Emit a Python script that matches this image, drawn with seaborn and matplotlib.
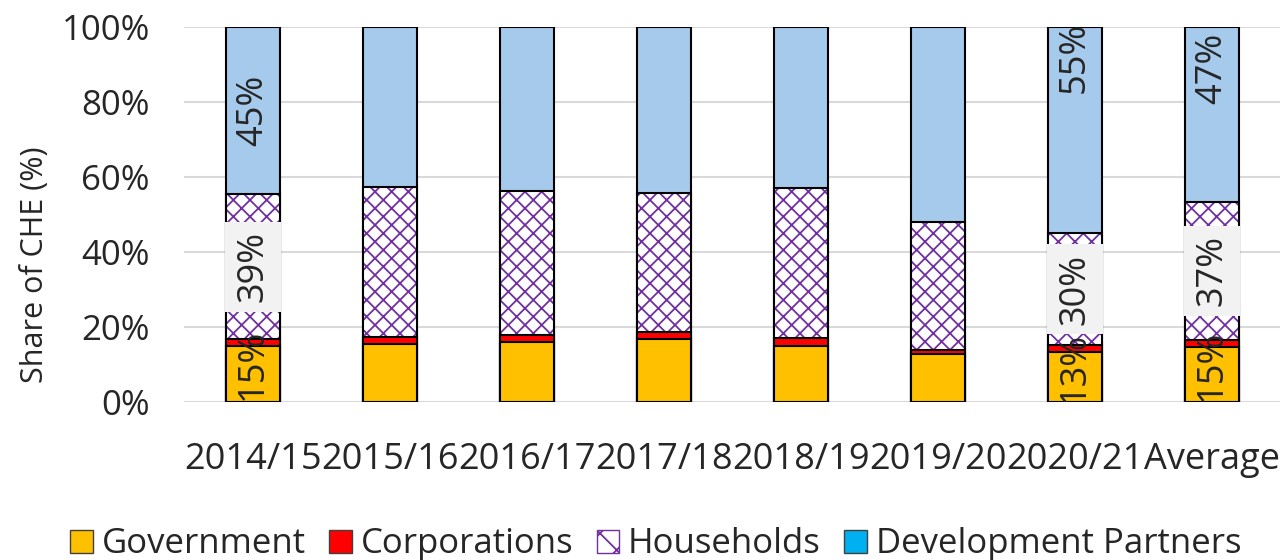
import numpy as np
import matplotlib
matplotlib.use('Agg')
import matplotlib.pyplot as plt
from matplotlib.patches import Patch
import seaborn as sns

# Datos (% del gasto corriente en salud por fuente)
years = ['2014/15', '2015/16', '2016/17', '2017/18', '2018/19', '2019/20', '2020/21', 'Average']
government = [15.0, 15.6, 16.0, 16.7, 15.0, 12.7, 13.4, 14.8]
corporations = [1.7, 1.8, 1.8, 2.0, 2.2, 1.3, 1.7, 1.8]
households = [38.7, 40.0, 38.6, 37.1, 39.8, 34.1, 30.0, 36.8]
dev_partners = [44.6, 42.6, 43.6, 44.2, 43.0, 51.9, 54.9, 46.6]
labelled_years = ['2014/15', '2020/21', 'Average']

sns.set_theme(style='white')
plt.rcParams['font.family'] = ['Open Sans', 'DejaVu Sans']
plt.rcParams['hatch.linewidth'] = 1.3

gov = np.array(government)
corp = np.array(corporations)
hh = np.array(households)
dp = np.array(dev_partners)

cum_corp = gov + corp
cum_hh = cum_corp + hh
cum_dp = cum_hh + dp

fig = plt.figure(figsize=(12.83, 5.6), dpi=100)
ax = fig.add_axes([0.1438, 0.2821, 0.8542, 0.6696])

common = dict(x=years, width=0.4, errorbar=None, saturation=1, ax=ax)

# Barras apiladas: de la capa superior hacia abajo
sns.barplot(y=cum_dp, color='#A6CAEC', edgecolor='black', linewidth=1.5, **common)
sns.barplot(y=cum_hh, color='white', edgecolor='#7030A0', linewidth=0, hatch='xx', **common)
sns.barplot(y=cum_hh, color='black', fill=False, linewidth=1.5, **common)
sns.barplot(y=cum_corp, color='#FF0000', edgecolor='black', linewidth=1.5, **common)
sns.barplot(y=gov, color='#FFC000', edgecolor='black', linewidth=1.5, **common)

# Etiquetas de datos
dp_label_y = {'2014/15': 77.7, '2020/21': 92, 'Average': 89}
for i, year in enumerate(years):
    if year not in labelled_years:
        continue
    ax.text(i, gov[i] / 2 + 2.5, f'{gov[i]:.0f}%', rotation=90, ha='center', va='center',
            fontsize=26, clip_on=True)
    ax.text(i, cum_corp[i] + hh[i] / 2, f'{hh[i]:.0f}%', rotation=90, ha='center', va='center',
            fontsize=26, bbox=dict(facecolor='#F2F2F2', edgecolor='none', pad=7))
    ax.text(i, dp_label_y[year], f'{dp[i]:.0f}%', rotation=90, ha='center', va='center',
            fontsize=26)

ax.set_xlim(-0.5, 7.5)
ax.set_ylim(0, 100)
ax.set_yticks(range(0, 101, 20))
ax.set_yticklabels([f'{v}%' for v in range(0, 101, 20)], fontsize=25)
ax.tick_params(axis='x', labelsize=26, length=0, pad=29)
ax.tick_params(axis='y', length=0, pad=25)
ax.set_xlabel('')
ax.set_ylabel('Share of CHE (%)', fontsize=22)
ax.yaxis.set_label_coords(-0.1227, 0.365)
ax.grid(axis='y', color='#D9D9D9', linewidth=1.5)
ax.set_axisbelow(True)
sns.despine(ax=ax, left=True, bottom=True)

handles = [
    Patch(facecolor='#FFC000', edgecolor='#404040', label='Government'),
    Patch(facecolor='#FF0000', edgecolor='#404040', label='Corporations'),
    Patch(facecolor='white', edgecolor='#7030A0', hatch='x', label='Households'),
    Patch(facecolor='#00B0F0', edgecolor='#404040', label='Development Partners'),
]
fig.legend(handles=handles, loc='center', bbox_to_anchor=(0.511, 0.028), ncol=4,
           frameon=False, fontsize=25, handlelength=0.65, handleheight=0.65,
           handletextpad=0.25, columnspacing=0.68)

fig.savefig('out.png', dpi=100)
